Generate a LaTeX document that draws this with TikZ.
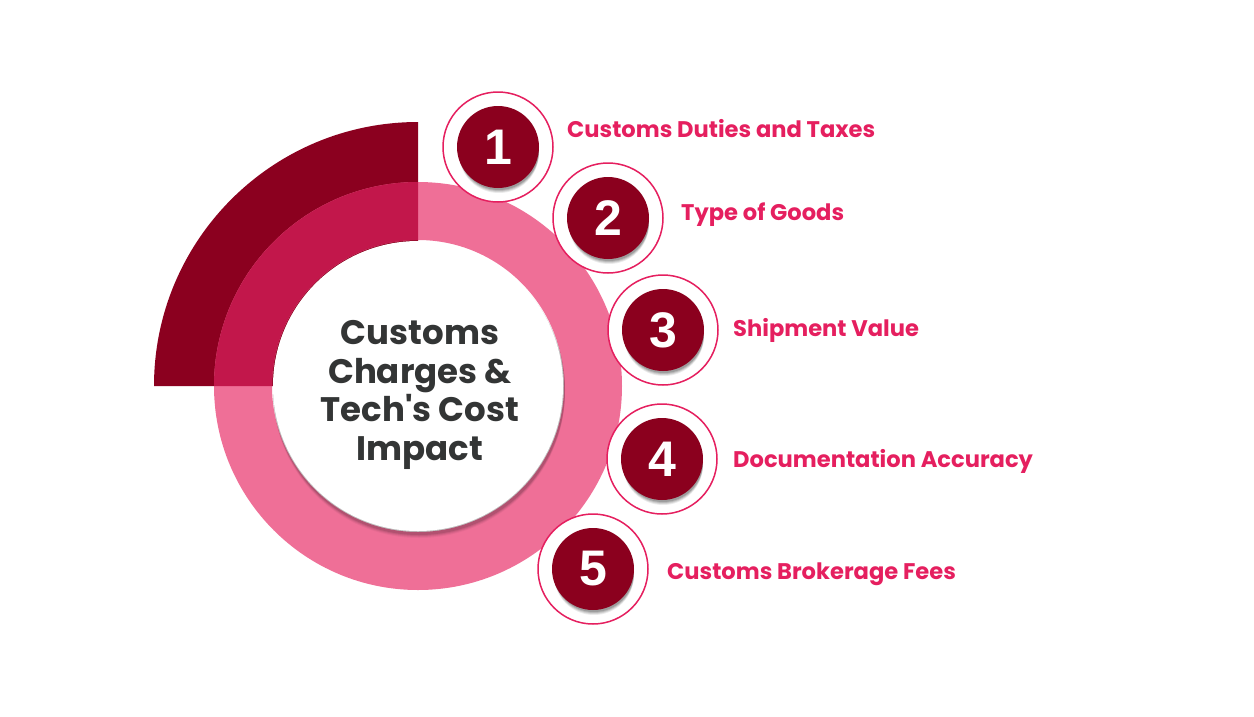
\documentclass[tikz,border=0pt]{standalone}
\usepackage{fontspec}
\setmainfont{Poppins}
\newfontfamily\numfont{Liberation Sans}
\usetikzlibrary{calc}
\definecolor{darkq}{HTML}{8B001F}
\definecolor{midq}{HTML}{C2174B}
\definecolor{ringpink}{HTML}{EF6F97}
\definecolor{labpink}{HTML}{E51F5F}
\definecolor{numred}{HTML}{8B001E}
\definecolor{ctext}{HTML}{333535}
\tikzset{
  numring/.style={circle, draw=labpink, line width=1.5pt, fill=white, minimum size=110pt, inner sep=0pt},
  numdisc/.style={circle, fill=numred, minimum size=82pt, inner sep=0pt, text=white, font=\numfont\bfseries\fontsize{50}{50}\selectfont},
  lab/.style={anchor=west, text=labpink, font=\bfseries\fontsize{22.6}{26}\selectfont, inner sep=0pt},
}
\begin{document}
\begin{tikzpicture}[x=1pt,y=-1pt]
\useasboundingbox (0,0) rectangle (1254,716);
\coordinate (C) at (418,386);
% dark quarter
\fill[darkq] (C) -- ([yshift=264pt]C) arc[start angle=90,end angle=180,radius=264pt] -- cycle;
% light ring
\fill[ringpink,even odd rule] (C) circle[radius=204pt] (C) circle[radius=146pt];
% mid quarter
\fill[midq] ([yshift=204pt]C) arc[start angle=90,end angle=180,radius=204pt] -- ([xshift=-146pt]C) arc[start angle=180,end angle=90,radius=146pt] -- cycle;
% center circle with shadow
\foreach \o/\a in {6/0.04,5/0.06,4/0.08,3/0.10}{
  \fill[black,opacity=\a] ($(C)+(1,\o)$) circle[radius=146pt];
}
\node[circle, fill=white, minimum size=290pt, inner sep=0pt] (center) at (C) {};
\node[text=ctext, align=center, font=\bfseries\fontsize{34}{38.5}\selectfont] (ctxt) at (420,395)
  {Customs\\Charges \&\\Tech\textquotesingle s Cost\\Impact};
% numbered items
\foreach \n/\x/\y in {1/498/147, 2/608/218, 3/663/330, 4/662/459, 5/593/569}{
  \node[numring] (r\n) at (\x,\y) {};
  \foreach \o/\a in {7/0.08,6/0.10,5/0.12,4/0.15}{
    \fill[black,opacity=\a] (\x+1,\y+\o-1) circle[radius=40pt];
  }
  \node[numdisc] (d\n) at (\x,\y) {\n};
}
\node[lab] (l1) at (567,129) {Customs Duties and Taxes};
\node[lab] (l2) at (681,215) {Type of Goods};
\node[lab] (l3) at (733,330) {Shipment Value};
\node[lab] (l4) at (733,461) {Documentation Accuracy};
\node[lab] (l5) at (667,574) {Customs Brokerage Fees};
\end{tikzpicture}
\end{document}
